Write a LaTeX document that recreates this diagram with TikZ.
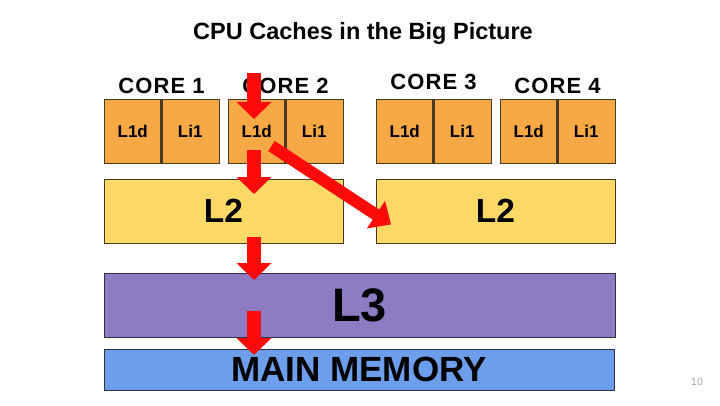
\documentclass[tikz,border=0pt]{standalone}
\usepackage{fontspec}
\setmainfont{Liberation Sans}
\usetikzlibrary{positioning,arrows.meta}
\definecolor{l1fill}{HTML}{F9A846}
\definecolor{l2fill}{HTML}{FFD966}
\definecolor{l3fill}{HTML}{8E7CC3}
\definecolor{memfill}{HTML}{6D9EEB}
\definecolor{boxline}{HTML}{4A3A22}
\definecolor{lowline}{HTML}{2E3040}
\definecolor{flowred}{HTML}{FF0A0A}

\begin{document}
\begin{tikzpicture}
    [x=1pt,y=-1pt,
     half/.style={rectangle,draw=boxline,fill=l1fill,line width=1pt,inner sep=0pt,outer sep=0pt,
       minimum width=57.5pt,minimum height=64pt,font=\fontsize{17}{20}\selectfont\bfseries},
     divider/.style={draw=boxline,line width=3pt},
     corelabel/.style={inner sep=0pt,font=\fontsize{22}{26}\selectfont\bfseries\addfontfeatures{LetterSpace=5}},
     cache/.style={rectangle,draw=boxline,line width=1pt,inner sep=0pt,outer sep=0pt},
     flow/.style={draw=flowred,line width=14pt,-{Triangle[width=34pt,length=17pt]}}]
    \useasboundingbox[fill=white] (0,0) rectangle (720,405);

    \node[inner sep=0pt,anchor=base,font=\fontsize{23.5}{28}\selectfont\bfseries] (title) at (363,39.3) {CPU Caches in the Big Picture};

    % the four cores
    \node[half,anchor=north west] (c1d) at (104,99) {L1d};
    \node[half] (c1i) [right=0pt of c1d] {Li1};
    \node[half] (c2d) [right=9pt of c1i] {L1d};
    \node[half] (c2i) [right=0pt of c2d] {Li1};
    \node[half] (c3d) [right=33pt of c2i] {L1d};
    \node[half] (c3i) [right=0pt of c3d] {Li1};
    \node[half] (c4d) [right=9pt of c3i] {L1d};
    \node[half] (c4i) [right=0pt of c4d] {Li1};
    \draw[divider] (c1d.north east) -- (c1d.south east);
    \draw[divider] (c2d.north east) -- (c2d.south east);
    \draw[divider] (c3d.north east) -- (c3d.south east);
    \draw[divider] (c4d.north east) -- (c4d.south east);

    \node[corelabel] (core1) [above=5pt of c1d.north east] {CORE 1};
    \node[corelabel] (core2) [above=5pt of c2d.north east] {CORE 2};
    \node[corelabel] (core3) [above=9pt of c3d.north east] {CORE 3};
    \node[corelabel] (core4) [above=5pt of c4d.north east] {CORE 4};

    % shared levels
    \node[cache,fill=l2fill,minimum width=239pt,minimum height=64pt,font=\fontsize{33.5}{38}\selectfont\bfseries]
      (l2a) [below right=16pt and 0pt of c1d.south west] {L2};
    \node[cache,fill=l2fill,minimum width=239pt,minimum height=64pt,font=\fontsize{33.5}{38}\selectfont\bfseries]
      (l2b) [below right=16pt and 0pt of c3d.south west] {L2};
    \node[cache,draw=lowline,fill=l3fill,minimum width=511pt,minimum height=64pt,font=\fontsize{47}{52}\selectfont\bfseries]
      (l3) [below right=30pt and 0pt of l2a.south west] {L3};
    \node[cache,draw=lowline,fill=memfill,minimum width=510pt,minimum height=41pt,font=\fontsize{35}{40}\selectfont\bfseries]
      (mem) [below right=12pt and 0pt of l3.south west] {\raisebox{-2.5pt}{MAIN MEMORY}};

    \node[inner sep=0pt,text=gray!70,font=\fontsize{10.5}{12}\selectfont] (pnum) at (697,382) {10};

    % the path of a miss
    \coordinate (req) at (254,73);
    \coordinate (hitl1) at (254,119);
    \coordinate (outl1) at (254,150);
    \coordinate (hitl2) at (254,194);
    \coordinate (outl2) at (254,237);
    \coordinate (hitl3) at (254,280);
    \coordinate (outl3) at (254,311);
    \coordinate (hitmem) at (254,355);
    \coordinate (snoop) at (271.5,146);
    \coordinate (hitother) at (391,224.5);
    \draw[flow] (req) -- (hitl1);
    \draw[flow] (outl1) -- (hitl2);
    \draw[flow] (outl2) -- (hitl3);
    \draw[flow] (outl3) -- (hitmem);
    \draw[flow,line width=12pt,-{Triangle[width=32pt,length=18pt]}] (snoop) -- (hitother);
\end{tikzpicture}
\end{document}
